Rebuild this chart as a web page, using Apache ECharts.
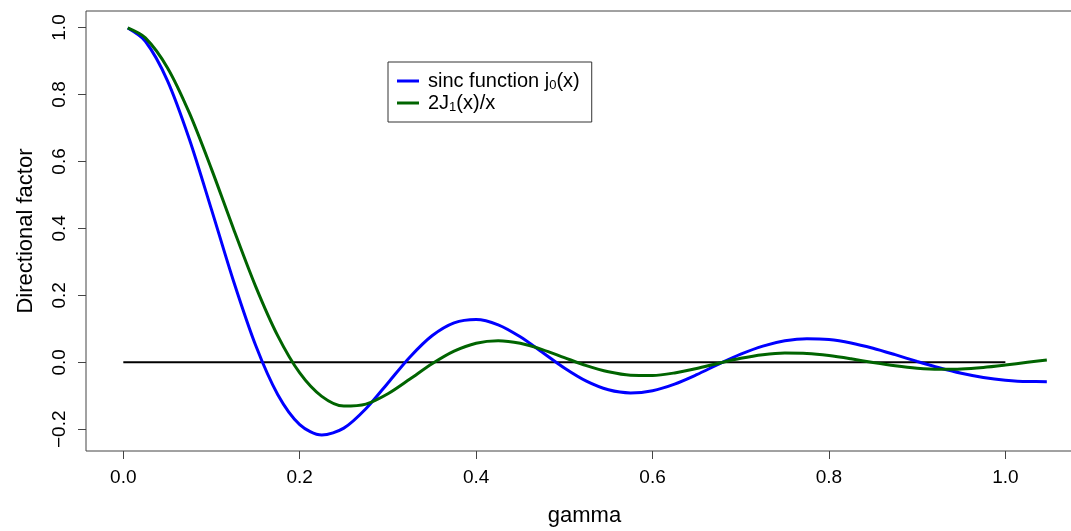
<!DOCTYPE html>
<html>
<head>
<meta charset="utf-8">
<title>Directional factor</title>
<script src="https://cdn.jsdelivr.net/npm/echarts@6.0.0/dist/echarts.min.js"></script>
<style>
    html, body { margin: 0; padding: 0; background: #fff; }
    #chart { width: 1071px; height: 531px; }
</style>
</head>
<body>
<div id="chart"></div>
<script>
// gamma 取样点
var gammaValues = [0.005, 0.025, 0.05, 0.075, 0.1, 0.125, 0.15, 0.175, 0.2, 0.225,
    0.25, 0.275, 0.3, 0.325, 0.35, 0.375, 0.4, 0.425, 0.45, 0.475,
    0.5, 0.525, 0.55, 0.575, 0.6, 0.625, 0.65, 0.675, 0.7, 0.725,
    0.75, 0.775, 0.8, 0.825, 0.85, 0.875, 0.9, 0.925, 0.95, 0.975,
    1.0, 1.025, 1.047];
// sinc function j0(x)
var sincValues = [0.9983, 0.9589, 0.8416, 0.6656, 0.4561, 0.2421, 0.0509, -0.0959, -0.1860, -0.2171,
    -0.1965, -0.1386, -0.0616, 0.0161, 0.0793, 0.1179, 0.1281, 0.1121, 0.0763, 0.0300,
    -0.0170, -0.0563, -0.0820, -0.0913, -0.0847, -0.0650, -0.0369, -0.0055, 0.0243, 0.0484,
    0.0642, 0.0707, 0.0682, 0.0579, 0.0420, 0.0228, 0.0026, -0.0164, -0.0327, -0.0452,
    -0.0535, -0.0575, -0.0577];
// 2J1(x)/x
var besselValues = [0.9988, 0.9691, 0.8801, 0.7440, 0.5770, 0.3983, 0.2270, 0.0797, -0.0318, -0.1018,
    -0.1308, -0.1249, -0.0940, -0.0500, -0.0044, 0.0333, 0.0571, 0.0645, 0.0568, 0.0381,
    0.0140, -0.0098, -0.0283, -0.0384, -0.0392, -0.0317, -0.0184, -0.0026, 0.0120, 0.0227,
    0.0276, 0.0265, 0.0202, 0.0105, -0.0006, -0.0105, -0.0177, -0.0208, -0.0199, -0.0152,
    -0.0081, -0.0001, 0.0066];
// 零线
var zeroLineX = [0, 1];
var zeroLineY = [0, 0];
// 刻度
var xTicks = [0, 0.2, 0.4, 0.6, 0.8, 1.0];
var yTicks = [-0.2, 0, 0.2, 0.4, 0.6, 0.8, 1.0];

var seriesNames = ['sinc function j0(x)', '2J1(x)/x'];

function pairs(xs, ys) {
    return xs.map(function(x, i) { return [x, ys[i]]; });
}

function tickText(v) {
    return v < 0 ? '\u2212' + Math.abs(v).toFixed(1) : v.toFixed(1);
}

var font = "'Liberation Sans', Arial, Helvetica, sans-serif";

var option = {
    animation: false,
    backgroundColor: '#fff',
    textStyle: { fontFamily: font, color: '#000' },
    grid: {
        left: 86,
        top: 11,
        width: 997,
        height: 440,
        containLabel: false,
        outerBoundsMode: 'none',
        show: true,
        borderColor: '#444',
        borderWidth: 1
    },
    legend: {
        orient: 'vertical',
        left: 388,
        top: 62,
        padding: [8, 12, 8, 9],
        itemGap: 0,
        itemWidth: 22,
        itemHeight: 3,
        borderColor: '#333',
        borderWidth: 1,
        backgroundColor: '#fff',
        data: [
            { name: seriesNames[0], icon: 'rect' },
            { name: seriesNames[1], icon: 'rect' }
        ],
        formatter: function(name) {
            if (name === seriesNames[0]) {
                return '{f|sinc function j}{s|0}{t|(x)}';
            }
            return '{f|2J}{s|1}{t|(x)/x}';
        },
        textStyle: {
            fontFamily: font,
            color: '#000',
            rich: {
                f: { fontSize: 20, lineHeight: 20, padding: [0, 0, 0, 4], fontFamily: font, color: '#000' },
                t: { fontSize: 20, lineHeight: 20, fontFamily: font, color: '#000' },
                s: { fontSize: 13, lineHeight: 13, padding: [9, 0, 0, 0], fontFamily: font, color: '#000' }
            }
        }
    },
    xAxis: {
        type: 'value',
        min: -0.0423,
        max: 1.088,
        name: 'gamma',
        nameLocation: 'middle',
        nameGap: 54,
        nameTextStyle: { fontSize: 22, fontFamily: font, color: '#000' },
        axisLine: { show: false, onZero: false },
        splitLine: { show: false },
        axisTick: { show: true, inside: false, length: 8, customValues: xTicks, lineStyle: { color: '#444', width: 1 } },
        axisLabel: {
            customValues: xTicks,
            margin: 17,
            fontSize: 19,
            fontFamily: font,
            color: '#000',
            formatter: tickText
        }
    },
    yAxis: {
        type: 'value',
        min: -0.2649,
        max: 1.0493,
        name: 'Directional factor',
        nameLocation: 'middle',
        nameGap: 49,
        nameTextStyle: { fontSize: 22, fontFamily: font, color: '#000' },
        axisLine: { show: false, onZero: false },
        splitLine: { show: false },
        axisTick: { show: true, inside: false, length: 8, customValues: yTicks, lineStyle: { color: '#444', width: 1 } },
        axisLabel: {
            customValues: yTicks,
            rotate: 90,
            margin: 17,
            fontSize: 19,
            fontFamily: font,
            color: '#000',
            formatter: tickText
        }
    },
    series: [
        {
            name: 'zero',
            type: 'line',
            data: pairs(zeroLineX, zeroLineY),
            showSymbol: false,
            silent: true,
            lineStyle: { color: '#000', width: 2 },
            z: 1
        },
        {
            name: seriesNames[0],
            type: 'line',
            data: pairs(gammaValues, sincValues),
            smooth: 0.3,
            showSymbol: false,
            itemStyle: { color: '#0000ff' },
            lineStyle: { color: '#0000ff', width: 3 },
            z: 3
        },
        {
            name: seriesNames[1],
            type: 'line',
            data: pairs(gammaValues, besselValues),
            smooth: 0.3,
            showSymbol: false,
            itemStyle: { color: '#006400' },
            lineStyle: { color: '#006400', width: 3 },
            z: 4
        }
    ]
};

echarts.init(document.getElementById('chart')).setOption(option);
</script>
</body>
</html>
